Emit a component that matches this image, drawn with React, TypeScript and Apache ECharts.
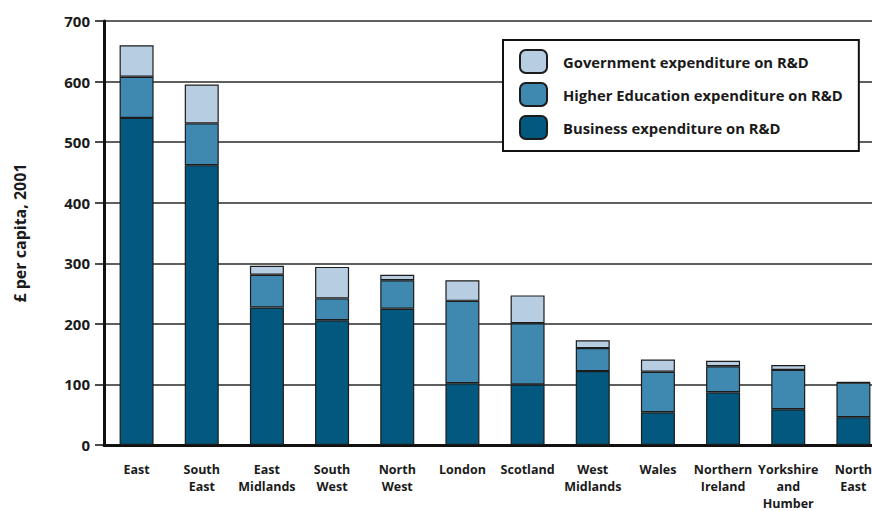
import React, { useEffect, useRef } from "react";
import * as echarts from "echarts";

const regions = [
  "East",
  "South East",
  "East Midlands",
  "South West",
  "North West",
  "London",
  "Scotland",
  "West Midlands",
  "Wales",
  "Northern Ireland",
  "Yorkshire and Humber",
  "North East",
];
const business = [540, 462, 227, 206, 225, 102, 100, 122, 54, 87, 59, 46];
const higherEd = [68, 69, 54, 36, 47, 136, 101, 38, 67, 43, 65, 57];
const government = [52, 64, 15, 52, 9, 34, 46, 13, 20, 9, 8, 1];
const yTicks = [0, 100, 200, 300, 400, 500, 600, 700];

const seriesNames = [
  "Government expenditure on R&D",
  "Higher Education expenditure on R&D",
  "Business expenditure on R&D",
];
const colors = {
  business: "#03587f",
  higherEd: "#3f88b0",
  government: "#b6cde2",
};

const FONT = "'Open Sans', Lato, sans-serif";

export default function App() {
  const ref = useRef<HTMLDivElement>(null);
  useEffect(() => {
    if (!ref.current) return;
    const chart = echarts.init(ref.current, null, { renderer: "svg" });
    const barStyle = (c: string) => ({
      color: c,
      borderColor: "#1c1c1c",
      borderWidth: 1.2,
    });
    chart.setOption({
      animation: false,
      backgroundColor: "#ffffff",
      textStyle: { fontFamily: FONT },
      grid: {
        left: 104,
        top: 21,
        right: -14,
        bottom: 66,
        containLabel: false,
        outerBoundsMode: "none",
      },
      legend: {
        orient: "vertical",
        left: 503,
        top: 40,
        data: seriesNames,
        itemWidth: 27,
        itemHeight: 23,
        itemGap: 8,
        padding: [9, 16, 11, 16],
        backgroundColor: "#ffffff",
        borderColor: "#111111",
        borderWidth: 2,
        borderRadius: 0,
        z: 10,
        textStyle: {
          fontFamily: FONT,
          fontWeight: "bold",
          fontSize: 14.8,
          lineHeight: 20,
          color: "#1a1a1a",
          padding: [0, 0, 0, 11],
        },
      },
      xAxis: {
        type: "category",
        data: regions,
        axisLine: { lineStyle: { color: "#111111", width: 3 } },
        axisTick: { show: false },
        axisLabel: {
          interval: 0,
          margin: 16,
          fontFamily: FONT,
          fontWeight: "bold",
          fontSize: 12.5,
          lineHeight: 17,
          color: "#1a1a1a",
          formatter: (v: string) => v.split(" ").join("\n"),
        },
      },
      yAxis: {
        type: "value",
        min: yTicks[0],
        max: yTicks[yTicks.length - 1],
        interval: 100,
        name: "£ per capita, 2001",
        nameLocation: "middle",
        nameGap: 76,
        nameRotate: 90,
        nameTextStyle: {
          fontFamily: FONT,
          fontWeight: "bold",
          fontSize: 16,
          color: "#1a1a1a",
        },
        axisLine: { show: true, lineStyle: { color: "#111111", width: 3 } },
        axisTick: { show: true, length: 9, lineStyle: { color: "#111111", width: 1.5 } },
        axisLabel: {
          margin: 14,
          fontFamily: FONT,
          fontWeight: "bold",
          fontSize: 15,
          color: "#1a1a1a",
        },
        splitLine: { show: true, lineStyle: { color: "#2a2a2a", width: 1.5 } },
      },
      series: [
        {
          name: seriesNames[2],
          type: "bar",
          stack: "total",
          barWidth: 34,
          data: business,
          itemStyle: barStyle(colors.business),
        },
        {
          name: seriesNames[1],
          type: "bar",
          stack: "total",
          barWidth: 34,
          data: higherEd,
          itemStyle: barStyle(colors.higherEd),
        },
        {
          name: seriesNames[0],
          type: "bar",
          stack: "total",
          barWidth: 34,
          data: government,
          itemStyle: barStyle(colors.government),
        },
      ],
    });
    return () => chart.dispose();
  }, []);
  return <div ref={ref} style={{ width: 872, height: 511, position: "absolute", left: 0, top: 0 }} />;
}
